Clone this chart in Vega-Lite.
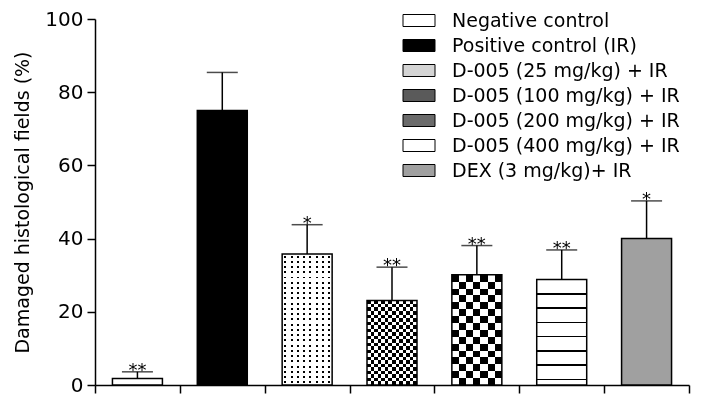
{
  "$schema": "https://vega.github.io/schema/vega-lite/v6.json",
  "width": 594,
  "height": 366,
  "autosize": "none",
  "padding": {"left": 95, "top": 19, "right": 13, "bottom": 21},
  "background": "white",
  "config": {"view": {"stroke": null}, "font": "DejaVu Sans"},
  "data": {
    "values": [
      {"group": "Negative control", "value": 1.8, "upper": 3.6, "sig": "**"},
      {"group": "Positive control (IR)", "value": 75, "upper": 85.4, "sig": ""},
      {"group": "D-005 (25 mg/kg) + IR", "value": 35.8, "upper": 43.8, "sig": "*"},
      {"group": "D-005 (100 mg/kg) + IR", "value": 23.1, "upper": 32.2, "sig": "**"},
      {"group": "D-005 (200 mg/kg) + IR", "value": 30.1, "upper": 38.1, "sig": "**"},
      {"group": "D-005 (400 mg/kg) + IR", "value": 28.8, "upper": 36.9, "sig": "**"},
      {"group": "DEX (3 mg/kg)+ IR", "value": 40.0, "upper": 50.3, "sig": "*"}
    ]
  },
  "encoding": {
    "x": {
      "field": "group",
      "type": "nominal",
      "sort": null,
      "scale": {
        "domain": ["Negative control", "Positive control (IR)", "D-005 (25 mg/kg) + IR", "D-005 (100 mg/kg) + IR", "D-005 (200 mg/kg) + IR", "D-005 (400 mg/kg) + IR", "DEX (3 mg/kg)+ IR"],
        "paddingInner": 0,
        "paddingOuter": 0
      },
      "axis": {
        "labels": false,
        "title": null,
        "grid": false,
        "tickBand": "extent",
        "tickSize": 8,
        "tickWidth": 1.5,
        "tickColor": "#000",
        "domainWidth": 1.5,
        "domainColor": "#000"
      }
    },
    "y": {
      "field": "value",
      "type": "quantitative",
      "scale": {"domain": [0, 100], "nice": false},
      "axis": {
        "title": "Damaged histological fields (%)",
        "values": [0, 20, 40, 60, 80, 100],
        "grid": false,
        "tickSize": 8,
        "tickWidth": 1.5,
        "tickColor": "#000",
        "domainWidth": 1.5,
        "domainColor": "#000",
        "labelFontSize": 20,
        "labelColor": "#000",
        "labelPadding": 4,
        "titleFontSize": 19,
        "titleFontWeight": "normal",
        "titleColor": "#000",
        "titleX": -67,
        "titleBaseline": "alphabetic"
      }
    }
  },
  "layer": [
    {
      "mark": {"type": "bar", "strokeWidth": 0, "width": {"band": 0.589}},
      "encoding": {
        "fill": {
          "field": "group",
          "type": "nominal",
          "scale": {
            "domain": ["Negative control", "Positive control (IR)", "D-005 (25 mg/kg) + IR", "D-005 (100 mg/kg) + IR", "D-005 (200 mg/kg) + IR", "D-005 (400 mg/kg) + IR", "DEX (3 mg/kg)+ IR"],
            "range": ["#fff", "#000", "#d4d4d4", "#5a5a5a", "#6a6a6a", "#fff", "#a0a0a0"]
          },
          "legend": {
            "title": null,
            "orient": "none",
            "legendX": 314.5,
            "legendY": -8,
            "padding": 0,
            "symbolSize": 4,
            "labelFont": "DejaVu Sans",
            "labelFontSize": 19,
            "labelColor": "#000",
            "labelOffset": 23.5,
            "labelLimit": 400,
            "rowPadding": 5,
            "encode": {
              "symbols": {
                "update": {
                  "shape": {"value": "M-16,-6 L16,-6 L16,6 L-16,6 Z"},
                  "fill": {"signal": "datum.value === 'D-005 (400 mg/kg) + IR' ? {gradient: 'linear', x1: 0, y1: 0, x2: 0, y2: 1, stops: [{offset: 0.46, color: '#fff'}, {offset: 0.46, color: '#000'}, {offset: 0.54, color: '#000'}, {offset: 0.54, color: '#fff'}]} : datum.value === 'Positive control (IR)' ? '#000' : datum.value === 'D-005 (25 mg/kg) + IR' ? '#d4d4d4' : datum.value === 'D-005 (100 mg/kg) + IR' ? '#5a5a5a' : datum.value === 'D-005 (200 mg/kg) + IR' ? '#6a6a6a' : datum.value === 'DEX (3 mg/kg)+ IR' ? '#a0a0a0' : '#fff'"},
                  "stroke": {"value": "#000"},
                  "strokeWidth": {"value": 1},
                  "opacity": {"value": 1}
                }
              }
            }
          }
        }
      }
    },
    {
      "transform": [{"filter": "datum.group === 'D-005 (25 mg/kg) + IR'"}],
      "mark": {
        "type": "bar",
        "width": {"band": 0.589},
        "fill": {
          "gradient": "linear", "x1": 0, "y1": 0, "x2": 0, "y2": 1,
          "stops": [
            {"offset": 0.012, "color": "#fff"}, {"offset": 0.012, "color": "#000"}, {"offset": 0.027, "color": "#000"}, {"offset": 0.027, "color": "#fff"},
            {"offset": 0.052, "color": "#fff"}, {"offset": 0.052, "color": "#000"}, {"offset": 0.067, "color": "#000"}, {"offset": 0.067, "color": "#fff"},
            {"offset": 0.092, "color": "#fff"}, {"offset": 0.092, "color": "#000"}, {"offset": 0.107, "color": "#000"}, {"offset": 0.107, "color": "#fff"},
            {"offset": 0.132, "color": "#fff"}, {"offset": 0.132, "color": "#000"}, {"offset": 0.147, "color": "#000"}, {"offset": 0.147, "color": "#fff"},
            {"offset": 0.172, "color": "#fff"}, {"offset": 0.172, "color": "#000"}, {"offset": 0.187, "color": "#000"}, {"offset": 0.187, "color": "#fff"},
            {"offset": 0.212, "color": "#fff"}, {"offset": 0.212, "color": "#000"}, {"offset": 0.227, "color": "#000"}, {"offset": 0.227, "color": "#fff"},
            {"offset": 0.252, "color": "#fff"}, {"offset": 0.252, "color": "#000"}, {"offset": 0.267, "color": "#000"}, {"offset": 0.267, "color": "#fff"},
            {"offset": 0.292, "color": "#fff"}, {"offset": 0.292, "color": "#000"}, {"offset": 0.307, "color": "#000"}, {"offset": 0.307, "color": "#fff"},
            {"offset": 0.332, "color": "#fff"}, {"offset": 0.332, "color": "#000"}, {"offset": 0.347, "color": "#000"}, {"offset": 0.347, "color": "#fff"},
            {"offset": 0.372, "color": "#fff"}, {"offset": 0.372, "color": "#000"}, {"offset": 0.387, "color": "#000"}, {"offset": 0.387, "color": "#fff"},
            {"offset": 0.412, "color": "#fff"}, {"offset": 0.412, "color": "#000"}, {"offset": 0.427, "color": "#000"}, {"offset": 0.427, "color": "#fff"},
            {"offset": 0.452, "color": "#fff"}, {"offset": 0.452, "color": "#000"}, {"offset": 0.467, "color": "#000"}, {"offset": 0.467, "color": "#fff"},
            {"offset": 0.492, "color": "#fff"}, {"offset": 0.492, "color": "#000"}, {"offset": 0.507, "color": "#000"}, {"offset": 0.507, "color": "#fff"},
            {"offset": 0.532, "color": "#fff"}, {"offset": 0.532, "color": "#000"}, {"offset": 0.547, "color": "#000"}, {"offset": 0.547, "color": "#fff"},
            {"offset": 0.572, "color": "#fff"}, {"offset": 0.572, "color": "#000"}, {"offset": 0.587, "color": "#000"}, {"offset": 0.587, "color": "#fff"},
            {"offset": 0.612, "color": "#fff"}, {"offset": 0.612, "color": "#000"}, {"offset": 0.627, "color": "#000"}, {"offset": 0.627, "color": "#fff"},
            {"offset": 0.652, "color": "#fff"}, {"offset": 0.652, "color": "#000"}, {"offset": 0.667, "color": "#000"}, {"offset": 0.667, "color": "#fff"},
            {"offset": 0.692, "color": "#fff"}, {"offset": 0.692, "color": "#000"}, {"offset": 0.707, "color": "#000"}, {"offset": 0.707, "color": "#fff"},
            {"offset": 0.732, "color": "#fff"}, {"offset": 0.732, "color": "#000"}, {"offset": 0.747, "color": "#000"}, {"offset": 0.747, "color": "#fff"},
            {"offset": 0.772, "color": "#fff"}, {"offset": 0.772, "color": "#000"}, {"offset": 0.787, "color": "#000"}, {"offset": 0.787, "color": "#fff"},
            {"offset": 0.812, "color": "#fff"}, {"offset": 0.812, "color": "#000"}, {"offset": 0.827, "color": "#000"}, {"offset": 0.827, "color": "#fff"},
            {"offset": 0.852, "color": "#fff"}, {"offset": 0.852, "color": "#000"}, {"offset": 0.867, "color": "#000"}, {"offset": 0.867, "color": "#fff"},
            {"offset": 0.892, "color": "#fff"}, {"offset": 0.892, "color": "#000"}, {"offset": 0.907, "color": "#000"}, {"offset": 0.907, "color": "#fff"},
            {"offset": 0.932, "color": "#fff"}, {"offset": 0.932, "color": "#000"}, {"offset": 0.947, "color": "#000"}, {"offset": 0.947, "color": "#fff"},
            {"offset": 0.972, "color": "#fff"}, {"offset": 0.972, "color": "#000"}, {"offset": 0.987, "color": "#000"}, {"offset": 0.987, "color": "#fff"}
          ]
        }
      }
    },
    {
      "transform": [{"filter": "datum.group === 'D-005 (25 mg/kg) + IR'"}],
      "mark": {
        "type": "bar",
        "width": {"band": 0.589},
        "blend": "lighten",
        "fill": {
          "gradient": "linear", "x1": 0, "y1": 0, "x2": 1, "y2": 0,
          "stops": [
            {"offset": 0.0425, "color": "#fff"}, {"offset": 0.0425, "color": "#000"}, {"offset": 0.0825, "color": "#000"}, {"offset": 0.0825, "color": "#fff"},
            {"offset": 0.1675, "color": "#fff"}, {"offset": 0.1675, "color": "#000"}, {"offset": 0.2075, "color": "#000"}, {"offset": 0.2075, "color": "#fff"},
            {"offset": 0.2925, "color": "#fff"}, {"offset": 0.2925, "color": "#000"}, {"offset": 0.3325, "color": "#000"}, {"offset": 0.3325, "color": "#fff"},
            {"offset": 0.4175, "color": "#fff"}, {"offset": 0.4175, "color": "#000"}, {"offset": 0.4575, "color": "#000"}, {"offset": 0.4575, "color": "#fff"},
            {"offset": 0.5425, "color": "#fff"}, {"offset": 0.5425, "color": "#000"}, {"offset": 0.5825, "color": "#000"}, {"offset": 0.5825, "color": "#fff"},
            {"offset": 0.6675, "color": "#fff"}, {"offset": 0.6675, "color": "#000"}, {"offset": 0.7075, "color": "#000"}, {"offset": 0.7075, "color": "#fff"},
            {"offset": 0.7925, "color": "#fff"}, {"offset": 0.7925, "color": "#000"}, {"offset": 0.8325, "color": "#000"}, {"offset": 0.8325, "color": "#fff"},
            {"offset": 0.9175, "color": "#fff"}, {"offset": 0.9175, "color": "#000"}, {"offset": 0.9575, "color": "#000"}, {"offset": 0.9575, "color": "#fff"}
          ]
        }
      }
    },
    {
      "transform": [{"filter": "datum.group === 'D-005 (100 mg/kg) + IR'"}],
      "mark": {
        "type": "bar",
        "width": {"band": 0.589},
        "fill": {
          "gradient": "linear", "x1": 0, "y1": 0, "x2": 0, "y2": 1,
          "stops": [
            {"offset": 0, "color": "#000"}, {"offset": 0.0417, "color": "#000"}, {"offset": 0.0417, "color": "#fff"}, {"offset": 0.0833, "color": "#fff"},
            {"offset": 0.0833, "color": "#000"}, {"offset": 0.125, "color": "#000"}, {"offset": 0.125, "color": "#fff"}, {"offset": 0.1667, "color": "#fff"},
            {"offset": 0.1667, "color": "#000"}, {"offset": 0.2083, "color": "#000"}, {"offset": 0.2083, "color": "#fff"}, {"offset": 0.25, "color": "#fff"},
            {"offset": 0.25, "color": "#000"}, {"offset": 0.2917, "color": "#000"}, {"offset": 0.2917, "color": "#fff"}, {"offset": 0.3333, "color": "#fff"},
            {"offset": 0.3333, "color": "#000"}, {"offset": 0.375, "color": "#000"}, {"offset": 0.375, "color": "#fff"}, {"offset": 0.4167, "color": "#fff"},
            {"offset": 0.4167, "color": "#000"}, {"offset": 0.4583, "color": "#000"}, {"offset": 0.4583, "color": "#fff"}, {"offset": 0.5, "color": "#fff"},
            {"offset": 0.5, "color": "#000"}, {"offset": 0.5417, "color": "#000"}, {"offset": 0.5417, "color": "#fff"}, {"offset": 0.5833, "color": "#fff"},
            {"offset": 0.5833, "color": "#000"}, {"offset": 0.625, "color": "#000"}, {"offset": 0.625, "color": "#fff"}, {"offset": 0.6667, "color": "#fff"},
            {"offset": 0.6667, "color": "#000"}, {"offset": 0.7083, "color": "#000"}, {"offset": 0.7083, "color": "#fff"}, {"offset": 0.75, "color": "#fff"},
            {"offset": 0.75, "color": "#000"}, {"offset": 0.7917, "color": "#000"}, {"offset": 0.7917, "color": "#fff"}, {"offset": 0.8333, "color": "#fff"},
            {"offset": 0.8333, "color": "#000"}, {"offset": 0.875, "color": "#000"}, {"offset": 0.875, "color": "#fff"}, {"offset": 0.9167, "color": "#fff"},
            {"offset": 0.9167, "color": "#000"}, {"offset": 0.9583, "color": "#000"}, {"offset": 0.9583, "color": "#fff"}
          ]
        }
      }
    },
    {
      "transform": [{"filter": "datum.group === 'D-005 (100 mg/kg) + IR'"}],
      "mark": {
        "type": "bar",
        "width": {"band": 0.589},
        "blend": "difference",
        "fill": {
          "gradient": "linear", "x1": 0, "y1": 0, "x2": 1, "y2": 0,
          "stops": [
            {"offset": 0, "color": "#000"}, {"offset": 0.0714, "color": "#000"}, {"offset": 0.0714, "color": "#fff"}, {"offset": 0.1429, "color": "#fff"},
            {"offset": 0.1429, "color": "#000"}, {"offset": 0.2143, "color": "#000"}, {"offset": 0.2143, "color": "#fff"}, {"offset": 0.2857, "color": "#fff"},
            {"offset": 0.2857, "color": "#000"}, {"offset": 0.3571, "color": "#000"}, {"offset": 0.3571, "color": "#fff"}, {"offset": 0.4286, "color": "#fff"},
            {"offset": 0.4286, "color": "#000"}, {"offset": 0.5, "color": "#000"}, {"offset": 0.5, "color": "#fff"}, {"offset": 0.5714, "color": "#fff"},
            {"offset": 0.5714, "color": "#000"}, {"offset": 0.6429, "color": "#000"}, {"offset": 0.6429, "color": "#fff"}, {"offset": 0.7143, "color": "#fff"},
            {"offset": 0.7143, "color": "#000"}, {"offset": 0.7857, "color": "#000"}, {"offset": 0.7857, "color": "#fff"}, {"offset": 0.8571, "color": "#fff"},
            {"offset": 0.8571, "color": "#000"}, {"offset": 0.9286, "color": "#000"}, {"offset": 0.9286, "color": "#fff"}
          ]
        }
      }
    },
    {
      "transform": [{"filter": "datum.group === 'D-005 (200 mg/kg) + IR'"}],
      "mark": {
        "type": "bar",
        "width": {"band": 0.589},
        "fill": {
          "gradient": "linear", "x1": 0, "y1": 0, "x2": 0, "y2": 1,
          "stops": [
            {"offset": 0, "color": "#000"}, {"offset": 0.0625, "color": "#000"}, {"offset": 0.0625, "color": "#fff"}, {"offset": 0.125, "color": "#fff"},
            {"offset": 0.125, "color": "#000"}, {"offset": 0.1875, "color": "#000"}, {"offset": 0.1875, "color": "#fff"}, {"offset": 0.25, "color": "#fff"},
            {"offset": 0.25, "color": "#000"}, {"offset": 0.3125, "color": "#000"}, {"offset": 0.3125, "color": "#fff"}, {"offset": 0.375, "color": "#fff"},
            {"offset": 0.375, "color": "#000"}, {"offset": 0.4375, "color": "#000"}, {"offset": 0.4375, "color": "#fff"}, {"offset": 0.5, "color": "#fff"},
            {"offset": 0.5, "color": "#000"}, {"offset": 0.5625, "color": "#000"}, {"offset": 0.5625, "color": "#fff"}, {"offset": 0.625, "color": "#fff"},
            {"offset": 0.625, "color": "#000"}, {"offset": 0.6875, "color": "#000"}, {"offset": 0.6875, "color": "#fff"}, {"offset": 0.75, "color": "#fff"},
            {"offset": 0.75, "color": "#000"}, {"offset": 0.8125, "color": "#000"}, {"offset": 0.8125, "color": "#fff"}, {"offset": 0.875, "color": "#fff"},
            {"offset": 0.875, "color": "#000"}, {"offset": 0.9375, "color": "#000"}, {"offset": 0.9375, "color": "#fff"}
          ]
        }
      }
    },
    {
      "transform": [{"filter": "datum.group === 'D-005 (200 mg/kg) + IR'"}],
      "mark": {
        "type": "bar",
        "width": {"band": 0.589},
        "blend": "difference",
        "fill": {
          "gradient": "linear", "x1": 0, "y1": 0, "x2": 1, "y2": 0,
          "stops": [
            {"offset": 0, "color": "#000"}, {"offset": 0.1429, "color": "#000"}, {"offset": 0.1429, "color": "#fff"}, {"offset": 0.2857, "color": "#fff"},
            {"offset": 0.2857, "color": "#000"}, {"offset": 0.4286, "color": "#000"}, {"offset": 0.4286, "color": "#fff"}, {"offset": 0.5714, "color": "#fff"},
            {"offset": 0.5714, "color": "#000"}, {"offset": 0.7143, "color": "#000"}, {"offset": 0.7143, "color": "#fff"}, {"offset": 0.8571, "color": "#fff"},
            {"offset": 0.8571, "color": "#000"}
          ]
        }
      }
    },
    {
      "transform": [{"filter": "datum.group === 'D-005 (400 mg/kg) + IR'"}],
      "mark": {
        "type": "bar",
        "width": {"band": 0.589},
        "fill": {
          "gradient": "linear", "x1": 0, "y1": 0, "x2": 0, "y2": 1,
          "stops": [
            {"offset": 0.129, "color": "#fff"}, {"offset": 0.129, "color": "#000"}, {"offset": 0.142, "color": "#000"}, {"offset": 0.142, "color": "#fff"},
            {"offset": 0.264, "color": "#fff"}, {"offset": 0.264, "color": "#000"}, {"offset": 0.277, "color": "#000"}, {"offset": 0.277, "color": "#fff"},
            {"offset": 0.400, "color": "#fff"}, {"offset": 0.400, "color": "#000"}, {"offset": 0.413, "color": "#000"}, {"offset": 0.413, "color": "#fff"},
            {"offset": 0.535, "color": "#fff"}, {"offset": 0.535, "color": "#000"}, {"offset": 0.548, "color": "#000"}, {"offset": 0.548, "color": "#fff"},
            {"offset": 0.670, "color": "#fff"}, {"offset": 0.670, "color": "#000"}, {"offset": 0.683, "color": "#000"}, {"offset": 0.683, "color": "#fff"},
            {"offset": 0.805, "color": "#fff"}, {"offset": 0.805, "color": "#000"}, {"offset": 0.818, "color": "#000"}, {"offset": 0.818, "color": "#fff"},
            {"offset": 0.940, "color": "#fff"}, {"offset": 0.940, "color": "#000"}, {"offset": 0.953, "color": "#000"}, {"offset": 0.953, "color": "#fff"}
          ]
        }
      }
    },
    {
      "mark": {"type": "bar", "width": {"band": 0.589}, "filled": false, "stroke": "#000", "strokeWidth": 1.5}
    },
    {
      "mark": {"type": "rule", "color": "#000", "strokeWidth": 1.5},
      "encoding": {"y2": {"field": "upper"}}
    },
    {
      "mark": {"type": "tick", "color": "#000", "size": 31, "thickness": 1.5},
      "encoding": {"y": {"field": "upper", "type": "quantitative"}}
    },
    {
      "mark": {"type": "text", "fontSize": 18, "baseline": "alphabetic", "dy": 4, "color": "#000"},
      "encoding": {
        "y": {"field": "upper", "type": "quantitative"},
        "text": {"field": "sig", "type": "nominal"}
      }
    }
  ]
}
